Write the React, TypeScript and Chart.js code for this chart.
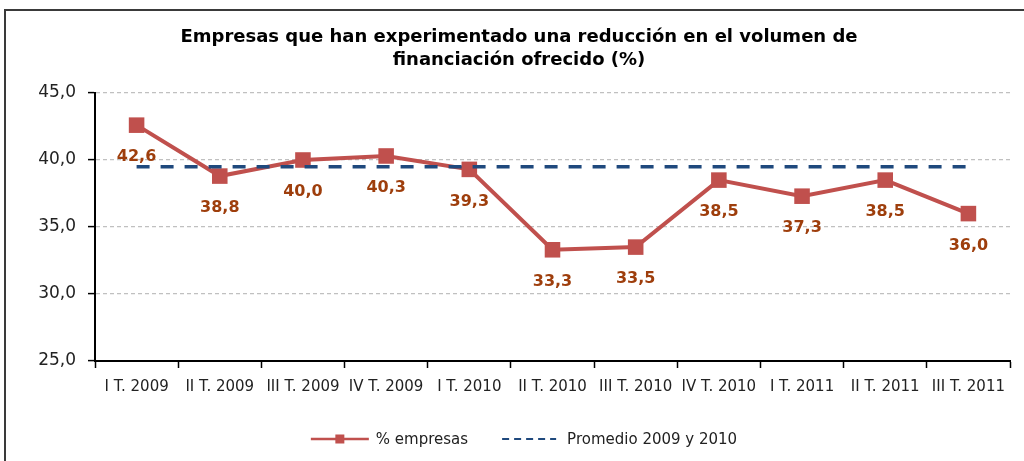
import { useEffect, useRef } from "react";
import { Chart, registerables } from "chart.js";

Chart.register(...registerables);

const titleLines = [
  "Empresas que han experimentado una reducción en el volumen de",
  "financiación ofrecido (%)",
];
const categories = [
  "I T. 2009",
  "II T. 2009",
  "III T. 2009",
  "IV T. 2009",
  "I T. 2010",
  "II T. 2010",
  "III T. 2010",
  "IV T. 2010",
  "I T. 2011",
  "II T. 2011",
  "III T. 2011",
];
const empresas = [42.6, 38.8, 40.0, 40.3, 39.3, 33.3, 33.5, 38.5, 37.3, 38.5, 36.0];
const promedio = [39.5, 39.5, 39.5, 39.5, 39.5, 39.5, 39.5, 39.5, 39.5, 39.5, 39.5];
const yMin = 25;
const yMax = 45;
const yStep = 5;
const seriesNames = ["% empresas", "Promedio 2009 y 2010"];

const RED = "#C0504D";
const BLUE = "#1F497D";
const LABEL = "#9E3E0C";
const FONT = "'DejaVu Sans', 'Liberation Sans', Arial, sans-serif";

const fmt = (v: number) => v.toFixed(1).replace(".", ",");

const titlePlugin = {
  id: "customTitle",
  afterDraw(chart: any) {
    const ctx = chart.ctx;
    ctx.save();
    ctx.fillStyle = "#000";
    ctx.font = `bold 18px ${FONT}`;
    ctx.textAlign = "center";
    ctx.textBaseline = "middle";
    ctx.fillText(titleLines[0], 519, 37);
    ctx.fillText(titleLines[1], 519, 60);
    ctx.restore();
  },
};

const labelPlugin = {
  id: "valueLabels",
  afterDatasetsDraw(chart: any) {
    const ctx = chart.ctx;
    const meta = chart.getDatasetMeta(0);
    ctx.save();
    ctx.fillStyle = LABEL;
    ctx.font = `bold 16px ${FONT}`;
    ctx.textAlign = "center";
    ctx.textBaseline = "middle";
    meta.data.forEach((pt: any, i: number) => {
      ctx.fillText(fmt(empresas[i]), pt.x, pt.y + 32);
    });
    ctx.restore();
  },
};

const legendPlugin = {
  id: "customLegend",
  afterDraw(chart: any) {
    const ctx = chart.ctx;
    ctx.save();
    ctx.font = `15px ${FONT}`;
    ctx.textBaseline = "middle";
    ctx.textAlign = "left";
    const sampleW = 58;
    const gap = 7;
    const itemGap = 34;
    const w0 = ctx.measureText(seriesNames[0]).width;
    const w1 = ctx.measureText(seriesNames[1]).width;
    const total = sampleW + gap + w0 + itemGap + sampleW + gap + w1;
    let x = 524 - total / 2;
    const y = 439;
    // item 1
    ctx.strokeStyle = RED;
    ctx.lineWidth = 2.5;
    ctx.beginPath();
    ctx.moveTo(x, y);
    ctx.lineTo(x + sampleW, y);
    ctx.stroke();
    ctx.fillStyle = RED;
    ctx.fillRect(x + sampleW / 2 - 4.5, y - 4.5, 9, 9);
    x += sampleW + gap;
    ctx.fillStyle = "#222";
    ctx.fillText(seriesNames[0], x, y + 1);
    x += w0 + itemGap;
    // item 2
    ctx.strokeStyle = BLUE;
    ctx.lineWidth = 2;
    ctx.setLineDash([7, 5]);
    ctx.beginPath();
    ctx.moveTo(x, y);
    ctx.lineTo(x + sampleW - 4, y);
    ctx.stroke();
    ctx.setLineDash([]);
    x += sampleW + gap;
    ctx.fillStyle = "#222";
    ctx.fillText(seriesNames[1], x, y + 1);
    ctx.restore();
  },
};

export default function App() {
  const ref = useRef<HTMLCanvasElement | null>(null);

  useEffect(() => {
    if (!ref.current) return;
    const chart = new Chart(ref.current, {
      type: "line",
      data: {
        labels: categories,
        datasets: [
          {
            label: seriesNames[0],
            data: empresas,
            borderColor: RED,
            backgroundColor: RED,
            borderWidth: 4,
            pointStyle: "rect",
            pointRadius: 11,
            pointHoverRadius: 11,
            pointBackgroundColor: RED,
            pointBorderWidth: 0,
            tension: 0,
            order: 2,
          },
          {
            label: seriesNames[1],
            data: promedio,
            borderColor: BLUE,
            backgroundColor: BLUE,
            borderWidth: 3.5,
            borderDash: [13, 11],
            pointRadius: 0,
            tension: 0,
            order: 1,
          },
        ],
      },
      options: {
        animation: false,
        responsive: false,
        maintainAspectRatio: false,
        events: [],
        layout: { padding: { left: 0, right: 14, top: 93, bottom: 40 } },
        plugins: {
          legend: { display: false },
          title: { display: false },
          tooltip: { enabled: false },
        },
        scales: {
          x: {
            offset: true,
            grid: {
              offset: true,
              drawOnChartArea: false,
              drawTicks: true,
              tickLength: 7,
              tickColor: "#000",
              tickWidth: 1.5,
            },
            border: { color: "#000", width: 2 },
            ticks: {
              color: "#222",
              font: { family: FONT, size: 15 },
              maxRotation: 0,
              autoSkip: false,
              padding: 10,
            },
            afterFit(scale: any) {
              scale.height = 60;
            },
          },
          y: {
            min: yMin,
            max: yMax,
            grid: {
              color: "#C0C0C0",
              lineWidth: 1.2,
              drawTicks: true,
              tickLength: 7,
              tickColor: "#000",
              tickWidth: 1.5,
              tickBorderDash: [],
            },
            border: { color: "#000", width: 2, dash: [4, 3] },
            ticks: {
              stepSize: yStep,
              color: "#222",
              font: { family: FONT, size: 17 },
              padding: 12,
              callback: (v: any) => fmt(Number(v)),
            },
            afterFit(scale: any) {
              scale.width = 95;
            },
          },
        },
      },
      plugins: [labelPlugin, titlePlugin, legendPlugin],
    });
    return () => chart.destroy();
  }, []);

  return (
    <div
      style={{
        position: "absolute",
        left: 0,
        top: 0,
        width: 1024,
        height: 461,
        overflow: "hidden",
        background: "#fff",
      }}
    >
      <div
        style={{
          position: "absolute",
          left: 4,
          top: 9,
          width: 1040,
          height: 500,
          border: "2px solid #3a3a3a",
          boxSizing: "border-box",
        }}
      />
      <canvas
        ref={ref}
        width={1024}
        height={461}
        style={{ position: "absolute", left: 0, top: 0, width: 1024, height: 461 }}
      />
    </div>
  );
}
